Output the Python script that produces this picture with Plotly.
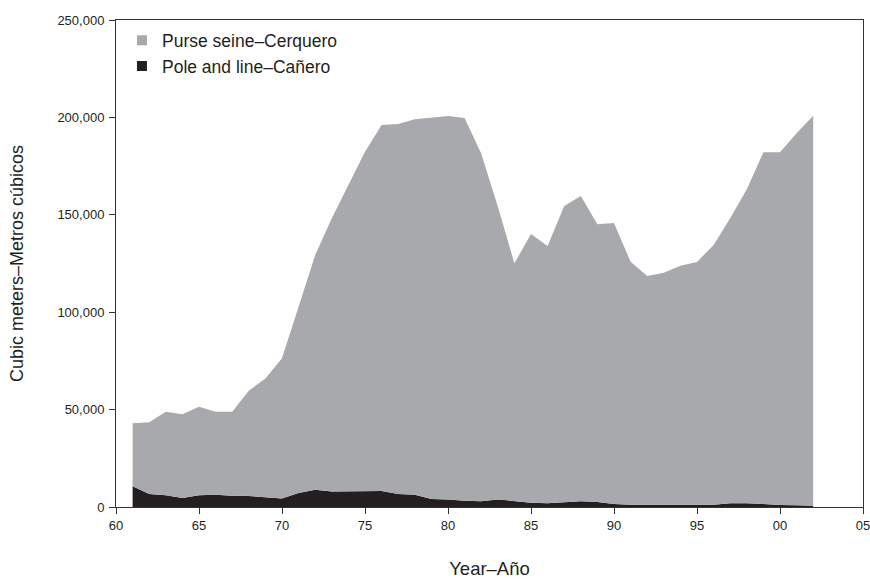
import plotly.graph_objects as go

years = list(range(1961, 2003))
pole_and_line = [10600, 6700, 6000, 4600, 6000, 6300, 5800, 5600, 5000, 4300,
                 7200, 8900, 8000, 8000, 7900, 8200, 6700, 6300, 4100, 3900,
                 3200, 2900, 3900, 3200, 2200, 1900, 2400, 2900, 2600, 1500,
                 1200, 1200, 1200, 1300, 1300, 1200, 1900, 1900, 1500, 1000,
                 900, 700]
purse_seine = [32400, 36800, 42900, 43000, 45500, 42600, 43100, 54100, 61000, 72000,
               95600, 120500, 140200, 157300, 174500, 187900, 189900, 192700, 195700, 196800,
               196500, 178600, 150300, 121900, 137900, 132100, 152100, 156700, 142500, 144300,
               124700, 117400, 119100, 122600, 124500, 133300, 146300, 161200, 180600, 181100,
               190900, 200200]

x_tickvals = [1960, 1965, 1970, 1975, 1980, 1985, 1990, 1995, 2000, 2005]
x_ticktext = ["60", "65", "70", "75", "80", "85", "90", "95", "00", "05"]
y_tickvals = [0, 50000, 100000, 150000, 200000, 250000]
y_ticktext = ["0", "50,000", "100,000", "150,000", "200,000", "250,000"]

names = ["Purse seine\u2013Cerquero", "Pole and line\u2013Ca\u00f1ero"]
GREY = "#a8a9ac"
BLACK = "#231f20"
FONT = "Liberation Sans, Arial, sans-serif"

fig = go.Figure()
fig.add_trace(go.Scatter(x=years, y=pole_and_line, stackgroup="one", mode="lines",
                         line=dict(width=0, color=BLACK), fillcolor=BLACK,
                         showlegend=False, hoverinfo="skip"))
fig.add_trace(go.Scatter(x=years, y=purse_seine, stackgroup="one", mode="lines",
                         line=dict(width=0, color=GREY), fillcolor=GREY,
                         showlegend=False, hoverinfo="skip"))
# legend entries (square swatches)
for nm, col in zip(names, [GREY, BLACK]):
    fig.add_trace(go.Scatter(x=[None], y=[None], mode="markers", name=nm,
                             marker=dict(symbol="square", size=10, color=col,
                                         line=dict(width=0))))

fig.update_layout(
    width=870, height=579,
    margin=dict(l=116, r=7, t=20, b=72, autoexpand=False),
    paper_bgcolor="white", plot_bgcolor="white",
    font=dict(family=FONT, color="#231f20", size=13),
    showlegend=True,
    legend=dict(x=0.008, y=0.995, xanchor="left", yanchor="top",
                bgcolor="rgba(0,0,0,0)", font=dict(size=17.5),
                traceorder="normal", itemsizing="trace"),
    xaxis=dict(range=[1960, 2005], tickvals=x_tickvals, ticktext=x_ticktext,
               automargin=False, ticklabeloverflow="allow",
               showgrid=False, zeroline=False, showline=True, mirror=True,
               linecolor="#333", linewidth=1, ticks="outside", ticklen=6,
               tickcolor="#333", tickfont=dict(size=13),
               title=dict(text="Year\u2013A\u00f1o", font=dict(size=18.5), standoff=32)),
    yaxis=dict(range=[0, 250000], tickvals=y_tickvals, ticktext=y_ticktext,
               automargin=False, ticklabelstandoff=2,
               showgrid=False, zeroline=False, showline=True, mirror=True,
               linecolor="#333", linewidth=1, ticks="outside", ticklen=6,
               tickcolor="#333", tickfont=dict(size=13),
               title=dict(text="Cubic meters\u2013Metros c\u00fabicos", font=dict(size=18), standoff=29)),
)

post = ("document.body.style.margin='0';"
        "document.documentElement.style.overflow='hidden';"
        "document.querySelectorAll('svg.main-svg').forEach(function(s){"
        "s.style.overflow='visible';});")
fig.write_html("out.html", post_script=post, config={"displayModeBar": False})
